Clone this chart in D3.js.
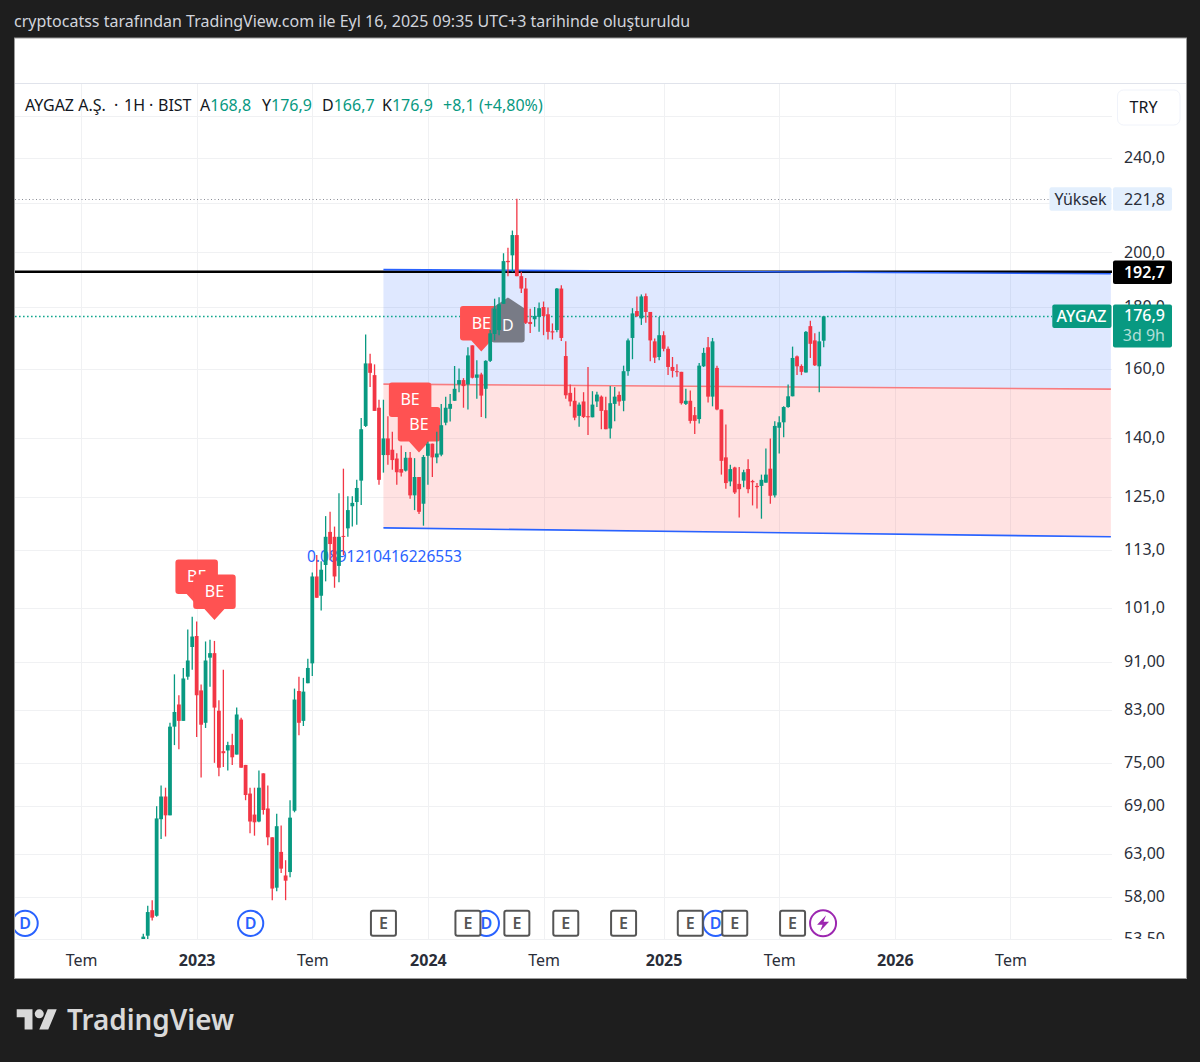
<!DOCTYPE html>
<html><head><meta charset="utf-8">
<script src="https://cdn.jsdelivr.net/npm/d3@7/dist/d3.min.js"></script>
<style>html,body{margin:0;padding:0;background:#1e1e1e}svg{display:block}text{font-family:"Noto Sans",sans-serif}</style>
</head><body><svg id="c" width="1200" height="1062"></svg>
<script>
const firstWeek = "2022-10-10", lastWeek = "2025-09-15";
const opens = [53.3,53.8,56.5,55.9,67.3,70.3,67.8,80.4,83.9,81.3,88.5,93.7,95.7,86.2,81.0,91.8,92.6,82.9,76.7,76.8,77.6,76.2,81.5,74.7,70.7,67.9,67.0,73.5,68.7,65.0,59.0,63.2,60.4,60.8,68.4,86.1,81.3,87.4,90.8,107.3,103.4,109.7,116.9,115.8,109.5,116.0,117.7,122.8,123.8,129.0,143.3,161.6,158.0,148.4,135.5,139.9,136.9,134.6,131.9,131.5,134.8,125.4,129.9,123.4,135.3,138.5,134.9,135.6,144.2,148.1,150.4,155.2,156.5,155.2,167.3,157.2,158.2,153.9,162.4,171.0,172.3,181.2,196.8,198.9,206.8,191.1,186.6,175.0,175.9,176.7,180.1,177.6,171.9,172.3,186.6,163.9,152.7,150.4,146.1,150.2,146.0,145.7,150.2,151.6,147.7,142.6,149.5,152.1,150.4,159.2,169.7,178.7,176.2,183.9,178.4,168.6,163.6,170.6,166.2,160.5,159.2,159.0,149.5,150.4,146.3,145.2,160.7,166.7,151.6,160.2,147.9,134.9,128.8,132.3,128.2,129.0,131.9,128.9,127.7,127.7,128.5,132.0,125.4,142.8,144.3,148.6,151.7,163.8,160.8,158.8,173.6,168.9,160.7,168.8];
const highs = [54.0,57.0,57.6,69.0,71.8,71.5,81.0,88.9,85.4,90.0,96.9,99.3,98.4,87.2,94.7,95.0,94.8,84.6,89.7,78.1,79.3,83.4,81.8,74.7,71.5,71.5,73.9,73.5,71.8,65.0,68.0,66.5,62.2,69.8,86.5,88.5,88.3,91.6,108.1,111.8,110.5,120.5,121.5,118.1,125.9,132.0,125.2,125.2,129.2,145.5,170.8,164.6,161.3,150.7,150.7,146.0,141.7,136.0,138.0,136.3,136.3,134.7,129.9,135.5,139.0,138.5,141.7,149.5,151.6,152.4,160.8,160.0,157.1,166.7,167.3,162.6,158.7,162.6,172.3,183.0,183.5,199.7,201.8,208.6,221.8,192.7,190.4,179.5,180.1,181.7,182.0,179.9,174.5,186.8,187.8,168.6,155.2,154.3,149.9,152.9,160.5,153.2,153.0,151.9,151.6,154.7,154.4,153.1,160.9,169.5,179.7,183.8,184.5,184.8,178.4,169.5,176.7,171.9,166.9,163.6,161.3,159.0,153.9,153.4,148.6,161.7,166.5,170.0,169.7,160.9,147.9,143.7,133.0,132.5,132.4,131.7,134.4,129.2,128.4,130.5,137.2,139.9,144.6,146.0,148.8,155.2,166.9,164.1,161.3,172.0,175.4,171.2,171.7,176.9];
const lows = [52.8,52.8,55.4,55.8,64.8,65.1,67.8,77.6,77.0,81.3,88.0,89.7,78.8,72.9,80.2,86.8,75.0,73.1,74.4,73.9,74.7,76.2,74.3,69.8,65.5,65.2,66.9,67.9,64.0,57.6,58.6,60.7,57.6,60.2,68.2,79.1,80.5,87.4,88.6,103.0,100.5,106.3,110.7,105.0,106.1,111.8,115.8,118.1,118.5,123.1,143.0,154.4,147.5,128.0,131.0,133.0,131.7,128.0,130.0,131.3,124.6,121.9,121.0,118.3,128.0,129.9,133.4,135.2,143.5,144.5,150.4,152.9,148.4,147.9,157.0,151.0,145.8,145.4,162.0,168.9,170.6,181.2,191.1,192.7,191.1,185.0,174.3,171.3,173.4,171.7,170.6,169.2,169.2,171.6,168.7,151.0,148.8,144.9,143.1,145.5,140.8,145.7,148.6,142.4,142.4,139.9,144.6,149.0,147.4,157.8,162.9,176.7,174.0,174.7,162.3,161.7,162.6,165.4,158.0,157.3,157.5,149.3,149.2,144.0,141.1,144.0,160.5,149.9,148.8,147.7,130.5,127.0,127.6,125.7,120.2,127.4,125.9,123.0,122.3,119.9,128.5,123.4,124.9,135.9,140.2,148.4,151.7,158.0,158.0,158.8,163.3,160.8,152.9,166.7];
const closes = [53.7,56.3,55.7,67.4,70.3,67.8,80.4,82.7,81.3,88.2,91.3,95.6,85.4,80.7,91.3,92.6,83.4,74.3,76.4,77.6,75.8,82.3,74.3,70.5,67.0,66.9,71.5,68.5,65.0,58.9,66.4,61.2,59.8,67.5,84.7,81.0,86.0,90.0,107.3,103.0,108.7,115.8,114.2,107.3,115.8,115.8,121.9,123.6,127.2,142.4,161.6,158.7,147.5,129.2,139.9,135.5,134.2,131.1,131.0,134.8,125.4,129.9,121.5,135.0,138.5,134.9,135.9,143.5,148.4,149.5,153.9,156.5,154.7,164.1,157.2,158.2,151.9,162.4,171.2,179.5,181.0,196.7,196.3,206.8,191.1,186.6,174.7,174.3,177.0,179.7,177.0,171.7,171.5,186.6,169.7,152.0,150.2,145.6,149.3,145.8,145.7,149.3,152.2,147.5,142.4,149.7,151.6,150.2,159.2,168.9,177.9,177.0,183.8,178.4,168.9,163.4,170.6,166.2,160.5,159.3,158.9,149.7,150.4,144.7,144.7,160.9,164.9,151.6,168.6,147.9,134.0,128.4,131.9,126.1,126.9,131.1,126.9,128.6,127.4,129.2,130.5,125.3,143.3,144.3,148.6,151.7,163.3,160.7,159.0,171.7,167.8,161.0,168.6,176.9];

const priceTicks = [260,240,220,200,180,160,140,125,113,101,91,83,75,69,63,58,53.5];
const priceTickLabels = ["","240,0","","200,0","180,0","160,0","140,0","125,0","113,0","101,0","91,00","83,00","75,00","69,00","63,00","58,00","53,50"];
const timeTicks = ["2022-07-04","2023-01-02","2023-07-03","2024-01-01","2024-07-01","2025-01-06","2025-07-07","2026-01-05","2026-07-06"];
const timeTickLabels = ["Tem","2023","Tem","2024","Tem","2025","Tem","2026","Tem"];

const channelDates = ["2023-10-23","2026-12-11"];
const channelTop = [193.5,192.0];
const channelMid = [155.3,153.8];
const channelBottom = [117.8,115.8];
const levelBlack = 192.7, levelHigh = 221.8, levelLast = 176.9;

const flagDates = ["2023-01-02","2023-01-30","2023-12-04","2023-12-18","2024-03-25"];
const flagTips = [101.6,98.7,142.7,136.2,165.3];
const dividendFlagDate = "2024-05-06", dividendFlagTip = 183.4;
const dividendDates = ["2022-04-07","2023-03-28","2024-04-02","2025-03-29"];
const earningDates = ["2023-10-23","2024-03-04","2024-05-20","2024-08-05","2024-11-04","2025-02-17","2025-04-28","2025-07-28"];
const splitDate = "2025-09-14";

const legendName = [["AYGAZ A.Ş.",25],["·",114],["1H",124],["·",149],["BIST",158]];
const legendOHLC = [["A","168,8",200],["Y","176,9",262],["D","166,7",322],["K","176,9",382]];
const UP="#089981", DOWN="#F23645", FLAG="#FF5252", BLUE="#2962FF", TXT="#131722", AX="#2A2E39";
const FS=16;

const svg=d3.select("#c");
const d=s=>new Date(s+"T00:00:00Z");
const x=d3.scaleUtc().domain([d(firstWeek),d(lastWeek)]).range([143.3,823.7]);
const y=d3.scaleLog().domain([240,53.5]).range([157.6,938.6]);
const week=864e5*7;
const candles=opens.map((o,i)=>({t:new Date(+d(firstWeek)+i*week),o,h:highs[i],l:lows[i],c:closes[i]}));

// page
svg.append("rect").attr("width",1200).attr("height",1062).attr("fill","#1e1e1e");
svg.append("text").attr("x",14).attr("y",27).attr("fill","#d1d4dc").attr("font-size",16).text("cryptocatss tarafından TradingView.com ile Eyl 16, 2025 09:35 UTC+3 tarihinde oluşturuldu");
svg.append("rect").attr("x",14.5).attr("y",38).attr("width",1172).attr("height",940.5).attr("fill","#fff").attr("stroke","#9a9a9a").attr("stroke-width",1);
const defs=svg.append("defs");
defs.append("clipPath").attr("id","plot").append("rect").attr("x",15).attr("y",84).attr("width",1097).attr("height",855);
defs.append("clipPath").attr("id","pax").append("rect").attr("x",1113).attr("y",84).attr("width",73).attr("height",855);

svg.append("line").attr("x1",15).attr("x2",1186).attr("y1",83.5).attr("y2",83.5).attr("stroke","#E0E3EB");
const plot=svg.append("g").attr("clip-path","url(#plot)");

// grid
plot.append("g").selectAll("line").data(priceTicks).join("line").attr("x1",15).attr("x2",1112).attr("y1",v=>Math.round(y(v))+.5).attr("y2",v=>Math.round(y(v))+.5).attr("stroke","#F0F1F3");
plot.append("g").selectAll("line").data(timeTicks).join("line").attr("x1",v=>Math.round(x(d(v)))+.5).attr("x2",v=>Math.round(x(d(v)))+.5).attr("y1",84).attr("y2",939).attr("stroke","#F0F1F3");
svg.append("line").attr("x1",15).attr("x2",1112).attr("y1",939.5).attr("y2",939.5).attr("stroke","#F0F1F3");

// channel
const cx=channelDates.map(d).map(x);
const poly=(a,b)=>`${cx[0]},${y(a[0])} ${cx[1]},${y(a[1])} ${cx[1]},${y(b[1])} ${cx[0]},${y(b[0])}`;
plot.append("polygon").attr("points",poly(channelTop,channelMid)).attr("fill",BLUE).attr("fill-opacity",.15);
plot.append("polygon").attr("points",poly(channelMid,channelBottom)).attr("fill",FLAG).attr("fill-opacity",.17);
const cl=(a,col,w)=>plot.append("line").attr("x1",cx[0]).attr("x2",cx[1]).attr("y1",y(a[0])).attr("y2",y(a[1])).attr("stroke",col).attr("stroke-width",w);

// price lines
plot.append("line").attr("x1",15).attr("x2",1049).attr("y1",Math.round(y(levelHigh))+.5).attr("y2",Math.round(y(levelHigh))+.5).attr("stroke","#8a8d96").attr("stroke-dasharray","1 2.5");
plot.append("line").attr("x1",15).attr("x2",1052).attr("y1",Math.round(y(levelLast))+.5).attr("y2",Math.round(y(levelLast))+.5).attr("stroke","#12A78E").attr("stroke-width",1.6).attr("stroke-dasharray","1.6 2.4");
plot.append("line").attr("x1",15).attr("x2",1112).attr("y1",y(levelBlack)).attr("y2",y(levelBlack)).attr("stroke","#000").attr("stroke-width",2.6);
cl(channelTop,BLUE,1.6);cl(channelMid,"#F77C80",1.6);cl(channelBottom,BLUE,1.6);

// blue text
plot.append("text").attr("x",307).attr("y",561.5).attr("fill",BLUE).attr("font-size",15.5).text("0.0891210416226553");

// flags
const W=42.5,H=34.5,R=3;
flagDates.forEach((dt,i)=>{
  const px=x(d(dt)),tip=y(flagTips[i]),b=tip-11,t=b-H,l=px-W/2,r=px+W/2;
  plot.append("path").attr("d",`M${l+R},${t}H${r-R}Q${r},${t} ${r},${t+R}V${b-R}Q${r},${b} ${r-R},${b}H${px+10}L${px},${tip}L${px-10},${b}H${l+R}Q${l},${b} ${l},${b-R}V${t+R}Q${l},${t} ${l+R},${t}Z`).attr("fill",FLAG);
  plot.append("text").attr("x",px).attr("y",(t+b)/2+5.5).attr("text-anchor","middle").attr("fill","#fff").attr("font-size",FS).text("BE");
});
{const px=x(d(dividendFlagDate)),t=y(dividendFlagTip),l=px-16.7,r=px+16.7,s=t+11,b=s+34;
 plot.append("path").attr("d",`M${px},${t}L${r},${s}V${b-R}Q${r},${b} ${r-R},${b}H${l+R}Q${l},${b} ${l},${b-R}V${s}Z`).attr("fill","#787B86");
 plot.append("text").attr("x",px).attr("y",s+22.5).attr("text-anchor","middle").attr("fill","#fff").attr("font-size",FS).text("D");}

// candles
const cg=plot.append("g").selectAll("g").data(candles).join("g");
cg.append("line").attr("x1",c=>x(c.t)).attr("x2",c=>x(c.t)).attr("y1",c=>y(c.h)).attr("y2",c=>y(c.l)).attr("stroke",c=>c.c>=c.o?UP:DOWN).attr("stroke-width",1.3);
cg.append("rect").attr("x",c=>x(c.t)-1.9).attr("width",3.8).attr("y",c=>y(Math.max(c.o,c.c))).attr("height",c=>Math.max(1,Math.abs(y(c.o)-y(c.c)))).attr("fill",c=>c.c>=c.o?UP:DOWN);

// event badges
const BY=923.3;
const evg=plot.append("g");
dividendDates.forEach(dt=>{const px=x(d(dt));
  evg.append("circle").attr("cx",px).attr("cy",BY).attr("r",12.6).attr("fill","#fff").attr("stroke",BLUE).attr("stroke-width",2);
  evg.append("text").attr("x",px).attr("y",BY+5.7).attr("text-anchor","middle").attr("fill",BLUE).attr("font-size",16).attr("font-weight",600).text("D");
});
earningDates.forEach(dt=>{const px=x(d(dt));
  evg.append("rect").attr("x",px-12.5).attr("y",BY-12.5).attr("width",25).attr("height",25).attr("rx",2).attr("fill","#fff").attr("stroke","#555").attr("stroke-width",2);
  evg.append("text").attr("x",px).attr("y",BY+5.7).attr("text-anchor","middle").attr("fill","#555").attr("font-size",16).attr("font-weight",600).text("E");
});
{const px=x(d(splitDate));
 evg.append("circle").attr("cx",px).attr("cy",BY).attr("r",13).attr("fill","#fff").attr("stroke","#9C27B0").attr("stroke-width",2);
 evg.append("path").attr("transform",`translate(${px},${BY})`).attr("d","M3,-8L-6,1.5H-0.5L-3,8L6,-1.5H0.5Z").attr("fill","#9C27B0");}

// legend
const lg=svg.append("g").attr("font-size",FS);
legendName.forEach(([t,px])=>lg.append("text").attr("x",px).attr("y",111).attr("fill",TXT).text(t));
legendOHLC.forEach(([k,v,px])=>{const t=lg.append("text").attr("x",px).attr("y",111).attr("fill",TXT);t.text(k);t.append("tspan").attr("fill",UP).text(v);});
lg.append("text").attr("x",443).attr("y",111).attr("fill",UP).text("+8,1 (+4,80%)");

// axes
const pa=svg.append("g").attr("clip-path","url(#pax)").append("g").attr("transform","translate(1165,-0.5)")
 .call(d3.axisLeft(y).tickValues(priceTicks).tickSize(0).tickPadding(0).tickFormat((v,i)=>priceTickLabels[i]));
pa.select(".domain").remove();
pa.selectAll("text").attr("font-size",FS).attr("fill",AX).attr("font-family",'"Noto Sans",sans-serif');
const ta=svg.append("g").attr("transform","translate(0,955)")
 .call(d3.axisBottom(x).tickValues(timeTicks.map(d)).tickSize(0).tickPadding(0).tickFormat((v,i)=>timeTickLabels[i]));
ta.select(".domain").remove();
ta.selectAll("text").attr("font-size",FS).attr("fill",AX).attr("font-family",'"Noto Sans",sans-serif').attr("font-weight",(v,i)=>/^\d/.test(timeTickLabels[i])?700:400);

// price labels
const box=(x0,w,yc,h,fill,r)=>svg.append("rect").attr("x",x0).attr("y",yc-h/2).attr("width",w).attr("height",h).attr("rx",r||2).attr("fill",fill);
const lab=(px,py,t,col,anch,w,op)=>svg.append("text").attr("x",px).attr("y",py).attr("fill",col).attr("text-anchor",anch||"end").attr("font-size",FS).attr("font-weight",w||400).attr("fill-opacity",op||1).text(t);
box(1049.5,62,y(levelHigh)+.4,23.5,"#E3EFFD");box(1113,59,y(levelHigh)+.4,23.5,"#E3EFFD");
lab(1080.5,204.5,"Yüksek",AX,"middle");lab(1165,204.5,"221,8",AX);
box(1113,59,y(levelBlack)+.4,23.5,"#000");lab(1165,277.5,"192,7","#fff","end",600);
box(1052.3,59.2,316.3,23.5,UP);lab(1081.5,322,"AYGAZ","#fff","middle",500);
box(1113,59,326,43,UP);lab(1165,321,"176,9","#fff","end",500);lab(1165,340.5,"3d 9h","#fff","end",400,.7);

// TRY
svg.append("rect").attr("x",1117.5).attr("y",90).attr("width",62.5).attr("height",35).attr("rx",6).attr("fill","#fff").attr("stroke","#F0F3FA");
lab(1143.5,112.5,"TRY",TXT,"middle");

// logo
const logo=svg.append("g").attr("transform","translate(16.7,1004.8) scale(1.128)").attr("fill","#D9D9D9");
logo.append("path").attr("d","M14 22H7V11H0V4h14v18zM28 22h-8l7.5-18h8L28 22z");
logo.append("circle").attr("cx",20).attr("cy",8).attr("r",4);
svg.append("text").attr("x",67).attr("y",1030).attr("fill","#D9D9D9").attr("font-size",29).attr("font-weight",600).attr("font-family","Inter").attr("textLength",167).attr("lengthAdjust","spacingAndGlyphs").text("TradingView");
</script></body></html>
